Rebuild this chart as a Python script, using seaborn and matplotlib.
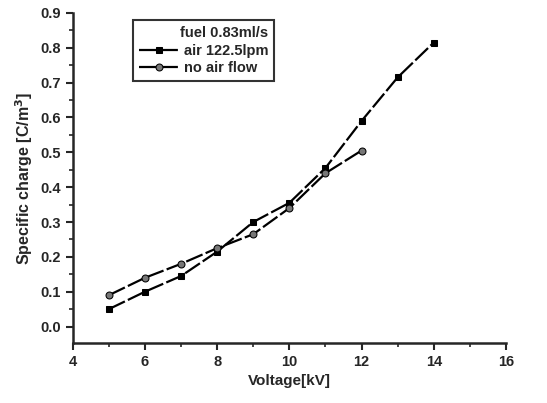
import matplotlib
matplotlib.use('Agg')
import matplotlib.pyplot as plt
import seaborn as sns
import pandas as pd
from matplotlib.ticker import MultipleLocator

voltage_air = [5, 6, 7, 8, 9, 10, 11, 12, 13, 14]
charge_air = [0.05, 0.10, 0.145, 0.215, 0.30, 0.355, 0.455, 0.59, 0.715, 0.815]
voltage_noair = [5, 6, 7, 8, 9, 10, 11, 12]
charge_noair = [0.09, 0.14, 0.18, 0.225, 0.265, 0.34, 0.44, 0.505]
labels = ['air 122.5lpm', 'no air flow']

sns.set_style('ticks')
plt.rcParams['font.family'] = ['Liberation Sans', 'DejaVu Sans']
plt.rcParams['font.weight'] = 'bold'

df = pd.concat([
    pd.DataFrame({'V': voltage_air, 'Q': charge_air, 'series': labels[0]}),
    pd.DataFrame({'V': voltage_noair, 'Q': charge_noair, 'series': labels[1]}),
])

fig = plt.figure(figsize=(5.47, 4.03), dpi=100)
ax = fig.add_axes([0.133, 0.149, 0.792, 0.819])

sns.lineplot(data=df, x='V', y='Q', hue='series', style='series',
             markers={labels[0]: 's', labels[1]: 'o'},
             dashes={labels[0]: (8, 1.5), labels[1]: (8, 1.5)},
             palette={labels[0]: 'black', labels[1]: 'black'},
             markersize=5, linewidth=1.6, ax=ax)
facecols = ['black', '#777777']
for ln, fc in zip(ax.lines, facecols):
    ln.set_markerfacecolor(fc)
    ln.set_markeredgecolor('black')

ax.set_xlim(4, 16)
ax.set_ylim(-0.047, 0.9)
ax.xaxis.set_major_locator(MultipleLocator(2))
ax.xaxis.set_minor_locator(MultipleLocator(1))
ax.yaxis.set_major_locator(MultipleLocator(0.1))
ax.yaxis.set_minor_locator(MultipleLocator(0.05))
ax.yaxis.set_major_formatter(matplotlib.ticker.FormatStrFormatter('%.1f'))
for s in ['top', 'right']:
    ax.spines[s].set_visible(False)
for s in ['left', 'bottom']:
    ax.spines[s].set_linewidth(1.8)
ax.tick_params(which='major', length=5, width=1.5, labelsize=10.5, direction='out')
ax.tick_params(which='minor', length=3, width=1.2, direction='out')
ax.set_xlabel('Voltage[kV]', fontsize=11, fontweight='bold')
ax.set_ylabel('Specific charge [C/m$^3$]', fontsize=11.5, fontweight='bold')

leg = ax.legend(title='fuel 0.83ml/s', loc='upper left', bbox_to_anchor=(0.122, 1.0),
                fontsize=10.5, title_fontsize=10.5, frameon=True, fancybox=False,
                handlelength=2.8, handletextpad=0.3, borderpad=0.4, labelspacing=0.25)
leg._legend_box.align = 'right'
leg.get_frame().set_edgecolor('black')
leg.get_frame().set_linewidth(1.5)
leg.get_title().set_fontweight('bold')
for h, fc in zip(leg.legend_handles, facecols):
    h.set_markerfacecolor(fc)
    h.set_markeredgecolor('black')

fig.savefig('out.png', dpi=100)
